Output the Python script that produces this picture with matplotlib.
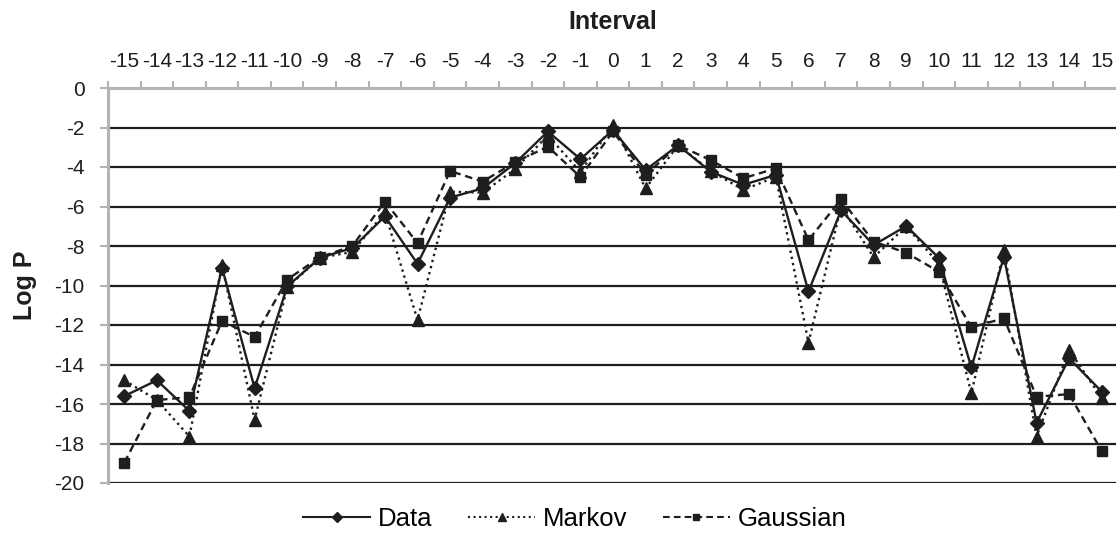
"""Interval별 Log P 비교 차트 (Data / Markov / Gaussian)."""

import matplotlib

matplotlib.use("Agg")
import matplotlib.pyplot as plt
from matplotlib.lines import Line2D

intervals = list(range(-15, 16))
data_values = [
    -15.6, -14.8, -16.35, -9.1, -15.2, -10.05, -8.6, -8.1, -6.5, -8.9,
    -5.55, -5.08, -3.8, -2.2, -3.6, -2.13, -4.15, -2.9, -4.24, -4.9,
    -4.4, -10.3, -6.2, -7.95, -6.99, -8.6, -14.15, -8.54, -16.95, -13.69,
    -15.37,
]
markov_values = [
    -14.8, -15.8, -17.65, -8.95, -16.8, -10.1, -8.6, -8.3, -6.3, -11.75,
    -5.25, -5.3, -4.1, -2.4, -4.25, -1.87, -5.08, -2.9, -4.2, -5.16,
    -4.5, -12.9, -6.0, -8.57, -7.0, -8.9, -15.46, -8.2, -17.65, -13.27,
    -15.7,
]
gaussian_values = [
    -18.97, -15.8, -15.65, -11.8, -12.6, -9.7, -8.57, -8.0, -5.75, -7.85,
    -4.2, -4.74, -3.75, -2.97, -4.5, -2.2, -4.4, -2.9, -3.65, -4.57,
    -4.07, -7.7, -5.64, -7.78, -8.34, -9.3, -12.12, -11.66, -15.63, -15.5,
    -18.38,
]
y_ticks = list(range(0, -21, -2))

plt.rcParams["font.family"] = ["Liberation Sans", "DejaVu Sans"]
plt.rcParams["axes.unicode_minus"] = False

GRAY = "#b3b3b3"
INK = "#1e1e1e"

fig = plt.figure(figsize=(11.16, 5.46), dpi=100)
ax = fig.add_axes([108 / 1116, 63 / 546, 1010 / 1116, 395 / 546])

# 가로 grid (0 위치는 회색 축선)
for value in y_ticks[1:]:
    ax.axhline(value, color=INK, linewidth=1.6, zorder=1)

series = [
    ("Data", data_values, "-", "D", 7.5),
    ("Markov", markov_values, ":", "^", 8.5),
    ("Gaussian", gaussian_values, (0, (3.2, 2.0)), "s", 7.0),
]
handles = []
for label, values, style, marker, size in series:
    ax.plot(intervals, values, linestyle=style, color=INK, linewidth=1.7,
            marker=marker, markersize=size, markerfacecolor=INK,
            markeredgecolor=INK, zorder=3)
    handles.append(Line2D([], [], linestyle=style, color=INK, linewidth=1.5,
                          marker=marker, markersize=size * 0.7,
                          markerfacecolor=INK, markeredgecolor=INK))

ax.set_xlim(-15.5, 15.5)
ax.set_ylim(-20, 0)

# x축: 위쪽 라벨, 눈금은 카테고리 경계
ax.xaxis.tick_top()
ax.xaxis.set_label_position("top")
ax.set_xticks(intervals)
ax.set_xticklabels([str(v) for v in intervals])
ax.set_xticks([v + 0.5 for v in range(-16, 16)], minor=True)
ax.tick_params(axis="x", which="major", length=0, pad=12, labelsize=15,
               labelcolor=INK)
ax.tick_params(axis="x", which="minor", length=5, width=1.5, color=GRAY,
               direction="out")
ax.set_xlabel("Interval", fontsize=18, fontweight="bold", labelpad=17,
              color=INK)

ax.set_yticks(y_ticks)
ax.set_yticklabels([str(v) for v in y_ticks])
ax.tick_params(axis="y", length=6, width=1.5, color=GRAY, pad=11,
               labelsize=15, labelcolor=INK)
ax.set_ylabel("Log P", fontsize=18, fontweight="bold", labelpad=12, color=INK)

for side in ("right", "bottom"):
    ax.spines[side].set_visible(False)
for side in ("left", "top"):
    ax.spines[side].set_color(GRAY)
    ax.spines[side].set_linewidth(2.2)

fig.legend(handles=handles, labels=[s[0] for s in series], loc="center",
           bbox_to_anchor=(0.515, 0.05), ncol=3, frameon=False, fontsize=18.5,
           handlelength=2.6, handletextpad=0.3, columnspacing=1.4)

fig.savefig("out.png", dpi=100)
